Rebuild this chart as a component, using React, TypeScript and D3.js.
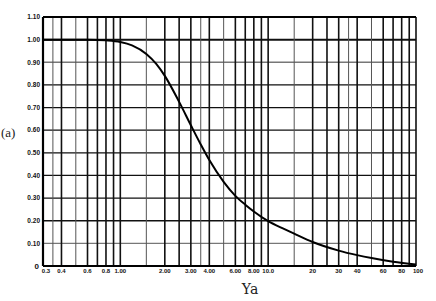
import * as d3 from "d3";
import React, { useEffect, useRef } from "react";

// curve: [Ya, f]
const curveX = [0.3, 0.6, 0.8, 1, 1.2, 1.5, 1.75, 2, 2.5, 3, 3.5, 4, 5, 6, 7, 8, 10, 13, 15, 20, 30, 40, 50, 70, 100];
const curveY = [1.0, 1.0, 0.997, 0.99, 0.975, 0.937, 0.893, 0.84, 0.725, 0.622, 0.537, 0.468, 0.372, 0.31, 0.271, 0.241, 0.198, 0.162, 0.143, 0.106, 0.068, 0.048, 0.035, 0.019, 0.007];

const gridX = [0.3, 0.35, 0.4, 0.5, 0.6, 0.7, 0.8, 0.9, 1, 1.5, 2, 2.5, 3, 3.5, 4, 5, 6, 7, 8, 9, 10, 15, 20, 25, 30, 35, 40, 50, 60, 70, 80, 90, 100];
const xTicks = [0.3, 0.4, 0.6, 0.8, 1, 2, 3, 4, 6, 8, 10, 20, 30, 40, 60, 80, 100];
const xTickLabels = ["0.3", "0.4", "0.6", "0.8", "1.00", "2.00", "3.00", "4.00", "6.00", "8.00", "10.0", "20", "30", "40", "60", "80", "100"];
const yTicks = [0.1, 0.2, 0.3, 0.4, 0.5, 0.6, 0.7, 0.8, 0.9, 1.0, 1.1];

export default function App() {
  const ref = useRef<SVGSVGElement>(null);

  useEffect(() => {
    const width = 436, height = 301;
    const left = 43, right = 416, top = 17, bottom = 266;

    const svg = d3.select(ref.current);
    svg.selectAll("*").remove();

    const x = d3.scaleLog().domain([0.3, 100]).range([left, right]);
    const y = d3.scaleLinear().domain([0, 1.1]).range([bottom, top]);

    svg.append("rect").attr("width", width).attr("height", height).attr("fill", "#fff");

    const g = svg.append("g");

    // horizontal grid
    g.selectAll("line.h")
      .data(yTicks.slice(0, -1))
      .join("line")
      .attr("x1", left).attr("x2", right)
      .attr("y1", (d) => y(d)).attr("y2", (d) => y(d))
      .attr("stroke", (d) => (Math.abs(d - 0.9) < 1e-6 || Math.abs(d - 0.1) < 1e-6 ? "#777" : "#111"))
      .attr("stroke-width", (d) => (Math.abs(d - 1) < 1e-6 ? 2 : 1.3));

    // vertical grid
    const light = (d: number) => {
      const m = d / Math.pow(10, Math.floor(Math.log10(d) + 1e-9));
      return Math.abs(m - 1.5) < 1e-6 || Math.abs(m - 3.5) < 1e-6 || Math.abs(m - 5) < 1e-6;
    };
    g.selectAll("line.v")
      .data(gridX)
      .join("line")
      .attr("x1", (d) => x(d)).attr("x2", (d) => x(d))
      .attr("y1", top).attr("y2", bottom)
      .attr("stroke", (d) => (light(d) ? "#555" : "#111"))
      .attr("stroke-width", (d) => (light(d) ? 1 : 1.6));

    // frame
    g.append("line").attr("x1", left).attr("x2", right).attr("y1", top).attr("y2", top)
      .attr("stroke", "#000").attr("stroke-width", 2);
    g.append("line").attr("x1", left).attr("x2", right).attr("y1", bottom).attr("y2", bottom)
      .attr("stroke", "#000").attr("stroke-width", 2);
    g.append("line").attr("x1", left).attr("x2", left).attr("y1", top).attr("y2", bottom)
      .attr("stroke", "#000").attr("stroke-width", 2.2);

    // curve
    const pts: [number, number][] = curveX.map((v, i) => [v, curveY[i]]);
    const line = d3.line<[number, number]>()
      .x((d) => x(d[0]))
      .y((d) => y(d[1]))
      .curve(d3.curveMonotoneX);
    g.append("path").attr("d", line(pts)).attr("fill", "none")
      .attr("stroke", "#000").attr("stroke-width", 2);

    // y labels
    g.selectAll("text.y")
      .data(yTicks)
      .join("text")
      .attr("x", 40)
      .attr("y", (d) => y(d) + 2.3)
      .attr("text-anchor", "end")
      .attr("font-family", "Liberation Sans, Arial, sans-serif")
      .attr("font-weight", "bold")
      .attr("font-size", 6.5)
      .attr("fill", "#111")
      .text((d) => d.toFixed(2));
    g.append("text").attr("x", 39).attr("y", 268.5).attr("text-anchor", "end")
      .attr("font-family", "Liberation Sans, Arial, sans-serif").attr("font-weight", "bold")
      .attr("font-size", 8).attr("fill", "#111").text("0");

    // x labels
    g.selectAll("text.x")
      .data(xTicks)
      .join("text")
      .attr("x", (d) => x(d) + (d === 0.3 ? 3 : d === 100 ? 2 : 0))
      .attr("y", 273)
      .attr("text-anchor", "middle")
      .attr("font-family", "Liberation Sans, Arial, sans-serif")
      .attr("font-weight", "bold")
      .attr("font-size", 6)
      .attr("fill", "#111")
      .text((d, i) => xTickLabels[i]);

    // axis titles
    g.append("text").attr("x", 250).attr("y", 294).attr("text-anchor", "middle")
      .attr("font-family", "DejaVu Serif, Liberation Serif, serif").attr("font-size", 14)
      .attr("fill", "#222").text("Ya");
    g.append("text").attr("x", 1).attr("y", 137)
      .attr("font-family", "Liberation Serif, serif").attr("font-size", 13)
      .attr("fill", "#222").text("(a)");
  }, []);

  return (
    <svg
      ref={ref}
      width={436}
      height={301}
      style={{ position: "absolute", left: 0, top: 0, display: "block" }}
    />
  );
}
